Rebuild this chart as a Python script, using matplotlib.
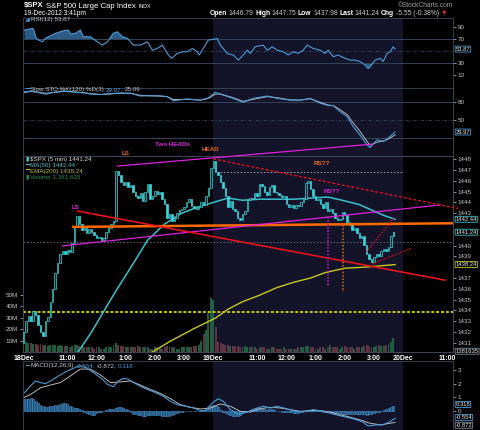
import numpy as np
import matplotlib.pyplot as plt

plt.rcParams['font.family'] = ['Liberation Sans', 'DejaVu Sans']

W, H = 480, 430   # output size, px

# ---- values (5 min bars, 18Dec 9:30 -> 19Dec 3:40) ----
open0 = 1431.0
close = [
    1432.0, 1433.0, 1433.5, 1433.0, 1433.9, 1433.6, 1432.6, 1432.0, 1431.6, 1433.0,
    1433.4, 1434.8, 1436.0, 1437.5, 1438.4, 1439.2, 1439.5, 1439.2, 1439.6, 1439.4,
    1440.2, 1441.8, 1442.7, 1442.0, 1441.4, 1441.6, 1441.2, 1441.5, 1441.3, 1441.0,
    1440.7, 1440.8, 1440.5, 1440.7, 1441.3, 1441.6, 1442.0, 1442.3, 1446.9, 1446.5,
    1445.9, 1445.6, 1445.9, 1445.4, 1445.6, 1445.0, 1444.6, 1444.4, 1444.9, 1444.1,
    1445.0, 1445.7, 1444.3, 1444.6, 1445.1, 1444.8, 1445.0, 1444.3, 1443.9, 1442.6,
    1442.9, 1442.3, 1442.6, 1443.0, 1443.3, 1443.4, 1443.6, 1444.0, 1444.3, 1443.7,
    1443.5, 1443.4, 1443.6, 1444.0, 1443.8, 1444.6, 1445.3, 1447.2,
    1447.8, 1446.8, 1446.5, 1445.9, 1445.3, 1444.6, 1443.6, 1444.1, 1443.4, 1443.2,
    1442.6, 1442.4, 1442.9, 1443.2, 1444.2, 1444.4, 1444.3, 1444.9, 1444.6, 1445.7,
    1445.5, 1445.0, 1444.7, 1445.4, 1445.6, 1445.0, 1444.9, 1444.7, 1444.5, 1444.6,
    1443.9, 1443.6, 1443.8, 1443.5, 1443.8, 1443.7, 1444.0, 1444.3, 1445.8, 1446.0,
    1445.2, 1444.6, 1444.2, 1444.3, 1443.9, 1443.5, 1444.0, 1443.2, 1443.4, 1443.0,
    1442.6, 1442.4, 1442.5, 1443.1, 1442.8, 1442.2, 1441.9, 1441.4, 1441.6, 1441.2,
    1440.7, 1440.9, 1440.1, 1439.2, 1438.8, 1438.5, 1438.9, 1439.2, 1439.0, 1439.5,
    1439.7, 1439.5, 1439.9, 1440.9, 1441.24]
# volume in millions
vol = [
    39, 9, 8, 8, 7, 7, 6, 7, 6, 6, 5,
    6, 6, 6, 5, 6, 5, 5, 5, 4, 5,
    6, 6, 5, 5, 4, 4, 4, 4, 3, 4,
    4, 3, 3, 4, 4, 4, 6, 8, 6, 5,
    5, 4, 4, 4, 4, 4, 5, 4, 4, 4,
    4, 3, 3, 4, 4, 4, 3, 4, 5, 4,
    4, 4, 3, 3, 4, 4, 4, 4, 4, 5,
    5, 6, 10, 16, 19, 34, 47,
    45, 22, 9, 8, 7, 6, 6, 5, 5, 5,
    5, 4, 4, 5, 4, 4, 4, 4, 3, 4,
    4, 4, 3, 3, 4, 4, 3, 3, 3, 4,
    3, 3, 3, 3, 3, 4, 4, 4, 5, 5,
    4, 4, 3, 3, 4, 4, 3, 4, 6, 4,
    4, 4, 3, 4, 5, 4, 4, 4, 3, 4,
    4, 4, 5, 6, 5, 4, 4, 5, 6, 5,
    5, 6, 7, 9, 12]

ma50_bar = [22, 28, 34, 38, 45, 51, 58, 65, 72, 78, 84, 90, 97, 104, 111, 118, 125, 131, 138, 144, 148, 152.7]
ma50 = [1430.0, 1432.0, 1434.3, 1435.8, 1438.3, 1440.5, 1442.0, 1443.0, 1443.6, 1444.0, 1444.4,
        1444.2, 1444.3, 1444.3, 1444.3, 1444.4, 1444.5, 1444.2, 1443.8, 1443.2, 1442.8, 1442.44]
ema_bar = [52, 60, 70, 79, 84, 90, 97, 104, 111, 118, 124, 132, 140, 152.7]
ema200 = [1430.0, 1431.1, 1432.3, 1433.3, 1434.1, 1434.8, 1435.4, 1436.1, 1436.6, 1437.0,
          1437.5, 1437.9, 1438.0, 1438.24]

rsi_bar = [0.4, 3.7, 4.1, 5.3, 6.2, 7.8, 9, 13.1, 16.4, 18.5, 19.3, 21.3, 23.4, 24.6, 27.5, 30.4,
           32.4, 34.5, 36.9, 38.6, 40.6, 42.7, 45.2, 48, 50.9, 53, 55, 57.1, 59.1, 60.8, 63.2,
           65.3, 67.3, 69.4, 71.4, 72.2, 73.9, 75.9, 78, 79.6, 80.9, 83.7, 86.2, 88.3, 90.3, 92,
           93.2, 95.2, 98.5, 100.2, 102.2, 104.3, 106.7, 108.8, 110.8, 112.9, 114.9, 116.6, 119,
           121.9, 124, 125.2, 127.3, 129.3, 132.2, 134.2, 136.3, 138.3, 140.4, 141.6, 142.4,
           144.5, 146.6, 147.8, 149.4, 150.7, 151.9, 152.7]
rsi = [85.5, 88.3, 87, 71.7, 69, 66, 71.8, 80, 84.4, 85.5, 78.8, 80, 85.5, 74.4, 74.4, 66,
       60.5, 66, 80, 82.7, 74.4, 71.7, 60.5, 60.5, 66, 52, 55, 60.5, 46.6, 38.3, 46.6,
       49.4, 49.4, 55, 49.4, 44, 55, 68.8, 70, 71.7, 60.5, 46.6, 44, 35.5, 44, 52,
       46.6, 57.7, 60.5, 52, 57.7, 52, 49.4, 44, 49.4, 46.6, 52, 60.5, 55,
       52, 46.6, 52, 41, 44, 38.3, 35.5, 35.5, 33, 27.2, 21.7, 24.4,
       35.5, 38.3, 33, 46.6, 49.4, 57.7, 53.87]

sto_bar = [0.4, 3, 6, 9, 12, 16, 20, 25, 28, 32, 36, 40, 44, 48, 55, 59, 61.6, 67.3, 72.7, 76,
           78.8, 80.9, 86.2, 90.3, 94.4, 100.2, 104.3, 109.6, 113.7, 117.8, 121.9, 125.2, 127.3,
           130.1, 133, 135.5, 138.3, 141.2, 142.4, 145.3, 147.8, 149.8, 152.7]
sto_k = [97, 98, 96, 93, 96, 98, 97, 95, 93, 92.5, 94, 95, 94.5, 90, 90.5, 89, 82, 85, 83, 87,
         96, 93, 86, 79.5, 86, 90, 86, 83, 83, 86, 78, 74, 74,
         64, 55.5, 39, 25, 8.3, 4, 17, 14, 19.5, 29.97]
sto_d = [96, 97.5, 96.5, 94.5, 95.5, 97.5, 97, 95.5, 93.5, 92.5, 93.5, 94.5, 94.5, 91, 90, 89, 84, 84.5, 83, 86,
         93, 93.5, 87, 81, 84.5, 89, 87, 83.5, 83, 85.5, 79.5, 75, 74,
         67, 59, 45, 31, 14, 8, 13, 15, 18, 25.09]

macd_bar = [0.4, 2.9, 4.9, 7, 9, 11.1, 14.4, 18.1, 21.3, 23.4, 25.5, 28.7, 32.4, 34.5, 36.9, 39, 41,
            43.1, 45.2, 49.3, 53.4, 57.5, 60.3, 63.2, 66.5, 69.8, 72.7, 74.7, 77.6, 80, 82.1, 85,
            88.3, 92, 96.1, 98.5, 101.4, 104.3, 108.4, 110.8, 114.9, 119, 123.2, 127.3, 131.4,
            135.5, 139.2, 141.6, 145.3, 147.8, 150.7, 152.7]
macd = [1.33, 1.83, 2.2, 2.08, 2.0, 2.2, 2.58, 2.95, 3.2, 3.33, 3.2, 2.83, 2.33, 1.95, 1.78, 2.2, 2.4,
        2.33, 2.08, 1.7, 1.4, 1.07, 0.7, 0.45, 0.33, 0.2, 0.0, 0.0, 0.58, 0.88, 0.7, 0.08,
        -0.25, -0.1, 0.2, 0.33, 0.2, 0.33, 0.13, 0.0, -0.1, 0.08, -0.05, -0.25, -0.43,
        -0.6, -0.8, -1.13, -1.05, -1.05, -0.8, -0.554]
sig_bar = [0.4, 2.9, 7, 11.1, 15.2, 19.3, 23.4, 27.5, 31.6, 35.7, 39.8, 43.9, 48, 52.1, 56.2, 60.3,
           64.4, 68.6, 72.7, 76.8, 80.9, 85, 89.1, 93.2, 97.3, 101.4, 105.5, 109.6, 113.7, 117.8,
           121.9, 126, 130.1, 134.2, 138.3, 142.4, 146.6, 152.7]
signal = [1.0, 1.2, 1.7, 1.9, 2.08, 2.58, 3.08, 3.08, 2.65, 2.08, 2.13, 2.2, 1.9, 1.58, 1.28, 0.9,
          0.45, 0.25, 0.13, 0.2, 0.5, 0.33, -0.05, -0.1, 0.15, 0.25, 0.2, 0.08, -0.05, 0.0,
          0.0, -0.1, -0.3, -0.48, -0.68, -0.93, -1.05, -0.872]
hist = [
    0.83, 0.85, 0.9, 0.95, 0.85, 0.7, 0.58, 0.45, 0.35, 0.3,
    0.28, 0.32, 0.38, 0.42, 0.45, 0.52, 0.56, 0.55, 0.46, 0.36,
    0.28, 0.23, 0.2, 0.15, 0.05, -0.08, -0.16, -0.25, -0.3, -0.29,
    -0.2, -0.13, -0.08, 0.0, 0.06, 0.1, 0.13, 0.15, 0.22, 0.25,
    0.25, 0.2, 0.12, 0.05, -0.1, -0.22, -0.28, -0.3, -0.35, -0.37,
    -0.37, -0.35, -0.35, -0.32, -0.3, -0.3, -0.34, -0.38, -0.41, -0.43,
    -0.37, -0.3, -0.22, -0.18, -0.12, -0.07, -0.04, 0.0, 0.0, -0.02,
    -0.05, -0.05, -0.03, 0.02, 0.08, 0.15, 0.25, 0.33,
    0.4, 0.37, 0.3, 0.08, -0.08, -0.2, -0.27, -0.35, -0.38, -0.38,
    -0.37, -0.3, -0.2, -0.12, -0.05, 0.06, 0.13, 0.17, 0.2, 0.2,
    0.15, 0.11, 0.08, 0.12, 0.11, 0.07, 0.01, -0.04, -0.08, -0.09,
    -0.06, -0.08, -0.13, -0.18, -0.18, -0.15, -0.09, -0.05, 0.0, 0.05,
    0.08, 0.08, 0.05, 0.02, -0.05, -0.09, -0.1, -0.1, -0.1, -0.16,
    -0.18, -0.18, -0.18, -0.21, -0.23, -0.23, -0.23, -0.23, -0.23, -0.23,
    -0.25, -0.25, -0.27, -0.29, -0.28, -0.23, -0.17, -0.12, -0.07, -0.03,
    0.04, 0.1, 0.17, 0.24, 0.318]

xt = [0, 18, 30, 42, 54, 66, 78, 96, 108, 120, 132, 144, 156, 174]
xt_lab = ['18Dec', '11:00', '12:00', '1:00', '2:00', '3:00', '19Dec',
          '11:00', '12:00', '1:00', '2:00', '3:00', '20Dec', '11:00']

# ---- colours ----
BG2 = '#131329'
GRID = '#34425c'
SPINE = '#3c4858'
TXT = '#c8c8c8'
BLUE = '#4b9cd8'
CYAN = '#3ad6dc'
MAG = '#e020e0'
ORG = '#f06a14'
RED = '#e8121c'

x = np.arange(len(close))
c = np.array(close)
o = np.r_[open0, c[:-1]]
up = c >= o

fig = plt.figure(figsize=(W / 100, H / 100), dpi=100, facecolor='black')


def add(top, bot):
    ax = fig.add_axes([23 / W, 1 - bot / H, 430 / W, (bot - top) / H])
    ax.set_facecolor('black')
    ax.set_xlim(-0.2, 176.5)
    for s in ax.spines.values():
        s.set_color(SPINE)
        s.set_linewidth(0.6)
    ax.yaxis.tick_right()
    ax.tick_params(axis='y', labelsize=4.5, colors=TXT, length=2, width=0.5, pad=1.5)
    ax.set_xticks([])
    return ax


def box(ax, y, s, ec, tc='#e6e6e6'):
    ax.text(1.006, y, s, transform=ax.get_yaxis_transform(), fontsize=4.2, color=tc,
            va='center', ha='left', clip_on=False, zorder=10,
            bbox=dict(boxstyle='round,pad=0.08', fc='black', ec=ec, lw=0.6))


def chain(xp, yp, parts, size=4.5):
    # place coloured text pieces one after another (pixel coords)
    r = fig.canvas.get_renderer()
    for s, col, wt in parts:
        t = fig.text(xp / W, 1 - yp / H, s, color=col, fontsize=size, weight=wt, va='center')
        xp += t.get_window_extent(r).width + 1.5
    return xp


# ---- RSI ----
ax_r = add(17.5, 88)
ax_r.axvspan(78, 156, color=BG2, lw=0, zorder=0)
ax_r.set_ylim(-11, 106.5)
ax_r.set_yticks([10, 30, 70, 90])
for lv in (70, 30):
    ax_r.axhline(lv, color=GRID, lw=0.7)
ax_r.axhline(50, color=GRID, lw=0.6, ls=(0, (4, 2, 1, 2)))
rb, rv = np.array(rsi_bar), np.array(rsi)
ax_r.fill_between(rb, rv, 70, where=rv > 70, interpolate=True, color='#2c5b86', lw=0)
ax_r.fill_between(rb, rv, 30, where=rv < 30, interpolate=True, color='#2c5b86', lw=0)
ax_r.plot(rb, rv, color=BLUE, lw=0.8)
box(ax_r, 53.87, '53.87', BLUE)

# ---- Slow STO ----
ax_s = add(88, 155.7)
ax_s.axvspan(78, 156, color=BG2, lw=0, zorder=0)
ax_s.set_ylim(-9.5, 103.3)
ax_s.set_yticks([50, 80])
for lv in (80, 20):
    ax_s.axhline(lv, color=GRID, lw=0.7)
ax_s.axhline(50, color=GRID, lw=0.6, ls=(0, (4, 2, 1, 2)))
ax_s.plot(sto_bar, sto_d, color='#b8b8b8', lw=0.7)
ax_s.plot(sto_bar, sto_k, color=BLUE, lw=0.8)
box(ax_s, 29.97, '29.97', BLUE)

# ---- volume (behind price) ----
ax_v = add(155.7, 352)
ax_v.axvspan(78, 156, color=BG2, lw=0, zorder=0)
ax_v.yaxis.tick_left()
ax_v.set_ylim(0, 170.7)
ax_v.set_yticks([10, 20, 30, 40, 50])
ax_v.set_yticklabels(['10M', '20M', '30M', '40M', '50M'])
ax_v.bar(x, vol, width=0.8, color=np.where(up, '#1f5e42', '#5e3440'), lw=0)

# ---- price ----
ax_p = add(155.7, 352)
ax_p.set_facecolor('none')
ax_p.set_ylim(1430.14, 1448.33)
ax_p.set_yticks([1431, 1432, 1433, 1434, 1435, 1436, 1437, 1439, 1440, 1443, 1444,
                 1445, 1446, 1447, 1448])
ax_p.set_xticks(xt)
ax_p.set_xticklabels(xt_lab)
ax_p.tick_params(axis='x', length=0, pad=2.5, labelsize=5, colors='white')
for t in ax_p.get_xticklabels():
    t.set_fontweight('bold')

ax_p.axhline(1440.3, color='#6a6a6a', lw=0.6, ls=(0, (2, 2)))
ax_p.plot([80.9, 156], [1446.8, 1446.8], color='#b0b0b0', lw=0.6, ls=(0, (2, 2)))
ax_p.axhline(1433.88, color='#c8c800', lw=1.4, ls=(0, (1.5, 1)), zorder=2)

ax_p.plot(ema_bar, ema200, color='#c8c81e', lw=1.0, zorder=3)
ax_p.plot(ma50_bar, ma50, color='#3cc0cc', lw=1.1, zorder=3)

lo, hi = np.minimum(o, c), np.maximum(o, c)
fc = np.where(up, '#062a2a', CYAN).astype(object)
fc[-1] = '#30e090'
ax_p.bar(x, np.maximum(hi - lo, 0.08), bottom=lo, width=0.6, color=list(fc),
         edgecolor=CYAN, lw=0.5, zorder=4)

# trend lines / notes
ax_p.plot([20.5, 176.5], [1441.73, 1442.07], color='#ff6a00', lw=1.8, zorder=5)
ax_p.plot([16.0, 171.2], [1439.97, 1443.77], color=MAG, lw=0.9, zorder=5)
ax_p.plot([38.6, 143.3], [1447.37, 1449.4], color=MAG, lw=0.9, zorder=5, clip_on=False)
ax_p.plot([22.2, 173.2], [1443.2, 1436.8], color=RED, lw=1.2, zorder=5)
ax_p.plot([78.0, 178.6], [1448.03, 1443.44], color=RED, lw=1.0, ls=(0, (2, 1.5)), zorder=5, clip_on=False)
ax_p.plot([140.8, 152.3], [1439.41, 1442.56], color=RED, lw=1.0, ls=(0, (1, 1.2)), zorder=5)
ax_p.plot([143.3, 159.7], [1438.3, 1439.78], color=RED, lw=1.0, ls=(0, (1, 1.2)), zorder=5)
ax_p.plot([125.2, 125.2], [1442.63, 1436.17], color='#c018c0', lw=1.2, ls=(0, (1, 1)), zorder=5)
ax_p.plot([131.4, 131.4], [1441.9, 1435.7], color='#d0600c', lw=1.2, ls=(0, (1, 1)), zorder=5)

for tx, ty, s, col in [(61.2, 1449.4, 'Two HEADs', MAG), (76.8, 1448.95, 'HEAD', ORG),
                       (41.9, 1448.49, 'LS', ORG), (21.3, 1443.49, 'LS', MAG),
                       (122.7, 1447.65, 'RS??', ORG), (126.8, 1444.97, 'RS??', MAG)]:
    ax_p.text(tx, ty, s, color=col, fontsize=4.5, weight='bold', ha='center', va='center', zorder=6)

box(ax_p, 1442.44, '1442.44', '#40c8d0')
box(ax_p, 1441.24, '1441.24', '#40c8d0')
box(ax_p, 1438.24, '1438.24', '#c8c820')
ax_p.text(1.006, 0.004, '1381635', transform=ax_p.transAxes, fontsize=4.2, color='#e6e6e6',
          va='center', ha='left', clip_on=False, zorder=10,
          bbox=dict(boxstyle='round,pad=0.08', fc='black', ec='#8090a0', lw=0.6))

# ---- MACD ----
ax_m = add(361, 430)
ax_m.axvspan(78, 156, color=BG2, lw=0, zorder=0)
ax_m.set_ylim(-1.43, 3.68)
ax_m.set_yticks([0, 1, 2, 3])
ax_m.bar(x, hist, width=0.75, color='#1d4f7a', edgecolor=BLUE, lw=0.4)
ax_m.plot(sig_bar, signal, color='#b8b8b8', lw=0.7)
ax_m.plot(macd_bar, macd, color=BLUE, lw=0.8)
box(ax_m, 0.46, '0.318', BLUE)
box(ax_m, -0.5, '-0.554', BLUE)
box(ax_m, -1.08, '-0.872', '#9090a0')

# ---- header and legends ----
xe = chain(24, 6, [('$SPX', 'white', 'bold')], size=5.5)
xe = chain(xe + 1, 6, [('S&P 500 Large Cap Index', 'white', 'normal')], size=5.6)
chain(xe + 1, 6.5, [('INDX', 'white', 'normal')], size=3.8)
chain(24, 13.5, [('19-Dec-2012 3:41pm', 'white', 'normal')], size=4.8)
fig.text(453 / W, 1 - 5.5 / H, '©StockCharts.com', color='#a0a0a0', fontsize=4.8, ha='right', va='center')
chain(210, 13.5, [('Open', 'white', 'bold'), ('1446.79', TXT, 'normal'),
                  ('High', 'white', 'bold'), ('1447.75', TXT, 'normal'),
                  ('Low', 'white', 'bold'), ('1437.98', TXT, 'normal'),
                  ('Last', 'white', 'bold'), ('1441.24', TXT, 'normal'),
                  ('Chg', 'white', 'bold'), ('-5.55 (-0.38%)', TXT, 'normal'),
                  ('▼', '#e02020', 'normal')], size=4.9)

chain(25, 20, [('◢', BLUE, 'normal'), ('RSI(12) 53.87', TXT, 'normal')])
chain(25, 89.7, [('━', BLUE, 'normal'), ('Slow STO %K(120) %D(3)', TXT, 'normal'),
                 ('29.97,', BLUE, 'normal'), ('25.09', TXT, 'normal')])
chain(25, 159.3, [('▮', CYAN, 'normal'), ('$SPX (5 min) 1441.24', '#d8d8d8', 'normal')])
chain(25, 165.2, [('━', '#3cc0cc', 'normal'), ('MA(50) 1442.44', '#40c0d0', 'normal')])
chain(25, 171, [('━', '#c8c81e', 'normal'), ('EMA(200) 1438.24', '#c0c020', 'normal')])
chain(25, 176.8, [('▮', '#209060', 'normal'), ('Volume 1,381,635', '#209060', 'normal')])
chain(25, 366, [('━', BLUE, 'normal'), ('MACD(12,26,9)', TXT, 'normal'),
                ('-0.554,', BLUE, 'normal'), ('-0.872,', TXT, 'normal'), ('0.318', BLUE, 'normal')])

fig.savefig('out.png', dpi=100, facecolor='black')
